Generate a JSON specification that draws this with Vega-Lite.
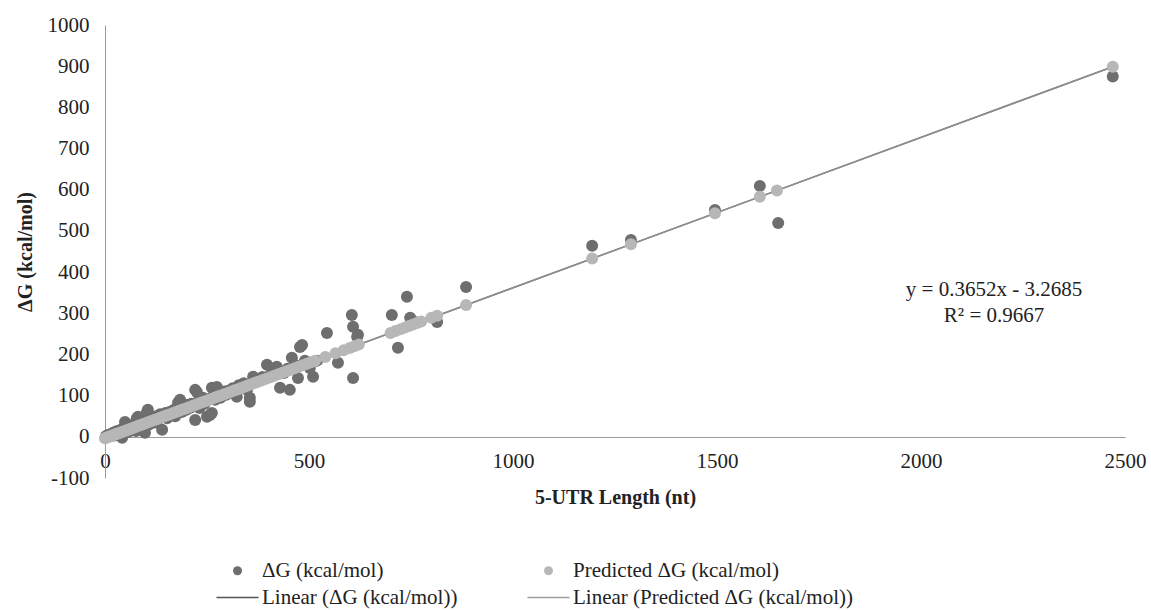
{
  "$schema": "https://vega.github.io/schema/vega-lite/v6.json",
  "width": 1020,
  "height": 453,
  "autosize": {"type": "none"},
  "padding": {"left": 105, "top": 25, "right": 26, "bottom": 132},
  "background": "white",
  "config": {
    "view": {"stroke": null},
    "font": "Liberation Serif",
    "axis": {"labelFont": "Liberation Serif", "titleFont": "Liberation Serif"},
    "legend": {"labelFont": "Liberation Serif"},
    "text": {"font": "Liberation Serif"}
  },
  "datasets": {
    "trend": [
      {"x": 0, "y": -3.27, "s": "a"}, {"x": 2470, "y": 898.8, "s": "a"},
      {"x": 0, "y": -3.27, "s": "b"}, {"x": 2470, "y": 898.8, "s": "b"}
    ],
    "eq": [
      {"x": 2179, "y": 357, "t": "y = 0.3652x - 3.2685"},
      {"x": 2179, "y": 294, "t": "R² = 0.9667"}
    ],
    "dg": [
      {"x":2,"y":1},{"x":5,"y":3},{"x":8,"y":0},{"x":10,"y":5},{"x":12,"y":2},{"x":15,"y":6},{"x":18,"y":4},{"x":20,"y":10},{"x":22,"y":3},{"x":25,"y":12},{"x":28,"y":5},{"x":30,"y":14},{"x":33,"y":8},{"x":35,"y":15},{"x":38,"y":9},{"x":40,"y":18},{"x":42,"y":-2},{"x":45,"y":20},{"x":48,"y":10},{"x":49,"y":36},{"x":52,"y":15},{"x":55,"y":22},{"x":58,"y":12},{"x":60,"y":25},{"x":63,"y":18},{"x":66,"y":28},{"x":70,"y":20},{"x":73,"y":30},{"x":76,"y":14},{"x":78,"y":45},{"x":81,"y":49},{"x":85,"y":27},{"x":88,"y":35},{"x":92,"y":25},{"x":95,"y":40},{"x":98,"y":10},{"x":100,"y":38},{"x":103,"y":60},{"x":105,"y":66},{"x":108,"y":30},{"x":112,"y":45},{"x":115,"y":40},{"x":118,"y":48},{"x":122,"y":35},{"x":126,"y":50},{"x":130,"y":42},{"x":135,"y":55},{"x":140,"y":17},{"x":143,"y":50},{"x":148,"y":58},{"x":152,"y":45},{"x":158,"y":60},{"x":163,"y":55},{"x":168,"y":65},{"x":172,"y":50},{"x":179,"y":83},{"x":184,"y":90},{"x":188,"y":60},{"x":192,"y":72},{"x":198,"y":65},{"x":203,"y":78},{"x":208,"y":70},{"x":212,"y":80},{"x":218,"y":75},{"x":221,"y":114},{"x":221,"y":41},{"x":225,"y":109},{"x":228,"y":85},{"x":232,"y":70},{"x":236,"y":88},{"x":240,"y":95},{"x":244,"y":80},{"x":250,"y":49},{"x":255,"y":92},{"x":257,"y":53},{"x":262,"y":119},{"x":262,"y":58},{"x":266,"y":100},{"x":270,"y":90},{"x":274,"y":121},{"x":278,"y":98},{"x":283,"y":95},{"x":288,"y":105},{"x":292,"y":110},{"x":297,"y":102},{"x":302,"y":112},{"x":308,"y":108},{"x":313,"y":118},{"x":318,"y":115},{"x":323,"y":97},{"x":328,"y":125},{"x":334,"y":120},{"x":340,"y":130},{"x":348,"y":114},{"x":355,"y":95},{"x":355,"y":85},{"x":363,"y":146},{"x":370,"y":135},{"x":378,"y":140},{"x":386,"y":145},{"x":397,"y":175},{"x":405,"y":150},{"x":413,"y":160},{"x":421,"y":170},{"x":429,"y":119},{"x":438,"y":155},{"x":447,"y":165},{"x":453,"y":114},{"x":458,"y":192},{"x":465,"y":175},{"x":473,"y":143},{"x":478,"y":218},{"x":483,"y":223},{"x":490,"y":185},{"x":502,"y":167},{"x":510,"y":146},{"x":520,"y":185},{"x":544,"y":252},{"x":571,"y":180},{"x":605,"y":296},{"x":608,"y":267},{"x":608,"y":143},{"x":618,"y":243},{"x":620,"y":248},{"x":703,"y":296},{"x":718,"y":216},{"x":740,"y":340},{"x":748,"y":289},{"x":760,"y":279},{"x":814,"y":279},{"x":885,"y":364},{"x":1194,"y":464},{"x":1289,"y":478},{"x":1495,"y":551},{"x":1605,"y":609},{"x":1650,"y":519},{"x":2470,"y":875}
    ],
    "pred": [
      {"x":0,"y":-3.27},{"x":3,"y":-2.17},{"x":6,"y":-1.08},{"x":10,"y":0.38},{"x":14,"y":1.84},{"x":18,"y":3.31},{"x":22,"y":4.77},{"x":26,"y":6.23},{"x":30,"y":7.69},{"x":35,"y":9.51},{"x":40,"y":11.34},{"x":45,"y":13.17},{"x":50,"y":14.99},{"x":55,"y":16.82},{"x":60,"y":18.64},{"x":65,"y":20.47},{"x":70,"y":22.3},{"x":76,"y":24.49},{"x":82,"y":26.68},{"x":88,"y":28.87},{"x":94,"y":31.06},{"x":100,"y":33.25},{"x":107,"y":35.81},{"x":114,"y":38.37},{"x":121,"y":40.92},{"x":128,"y":43.48},{"x":135,"y":46.03},{"x":142,"y":48.59},{"x":150,"y":51.51},{"x":158,"y":54.43},{"x":166,"y":57.36},{"x":174,"y":60.28},{"x":182,"y":63.2},{"x":190,"y":66.12},{"x":198,"y":69.04},{"x":206,"y":71.96},{"x":214,"y":74.88},{"x":222,"y":77.81},{"x":230,"y":80.73},{"x":238,"y":83.65},{"x":246,"y":86.57},{"x":254,"y":89.49},{"x":262,"y":92.41},{"x":270,"y":95.34},{"x":278,"y":98.26},{"x":286,"y":101.18},{"x":294,"y":104.1},{"x":302,"y":107.02},{"x":310,"y":109.94},{"x":318,"y":112.86},{"x":326,"y":115.79},{"x":334,"y":118.71},{"x":342,"y":121.63},{"x":350,"y":124.55},{"x":358,"y":127.47},{"x":366,"y":130.39},{"x":375,"y":133.68},{"x":385,"y":137.33},{"x":395,"y":140.98},{"x":405,"y":144.64},{"x":415,"y":148.29},{"x":425,"y":151.94},{"x":435,"y":155.59},{"x":445,"y":159.25},{"x":455,"y":162.9},{"x":465,"y":166.55},{"x":475,"y":170.2},{"x":485,"y":173.85},{"x":495,"y":177.51},{"x":505,"y":181.16},{"x":515,"y":184.81},{"x":540,"y":193.94},{"x":565,"y":203.07},{"x":585,"y":210.37},{"x":600,"y":215.85},{"x":612,"y":220.23},{"x":622,"y":223.88},{"x":700,"y":252.37},{"x":712,"y":256.75},{"x":725,"y":261.5},{"x":735,"y":265.15},{"x":745,"y":268.8},{"x":755,"y":272.46},{"x":765,"y":276.11},{"x":775,"y":279.76},{"x":800,"y":288.89},{"x":814,"y":294.0},{"x":885,"y":319.93},{"x":1194,"y":432.78},{"x":1289,"y":467.48},{"x":1495,"y":542.7},{"x":1605,"y":582.88},{"x":1647,"y":598.22},{"x":2470,"y":898.78}
    ]
  },
  "encoding": {
    "x": {
      "field": "x", "type": "quantitative",
      "scale": {"domain": [0, 2500], "nice": false, "zero": false},
      "axis": {
        "title": "5-UTR Length (nt)", "values": [0, 500, 1000, 1500, 2000, 2500],
        "labelExpr": "'' + datum.value",
        "offset": -41, "grid": false, "ticks": false, "tickSize": 0,
        "domainColor": "#9a9a9a", "domainWidth": 1, "labelFlush": false,
        "labelFont": "Liberation Serif", "labelFontSize": 21, "labelColor": "#222222", "labelPadding": 13,
        "titleFont": "Liberation Serif", "titleFontSize": 20, "titleFontWeight": "bold", "titleColor": "#222222", "titlePadding": 16
      }
    },
    "y": {
      "field": "y", "type": "quantitative",
      "scale": {"domain": [-100, 1000], "nice": false, "zero": false},
      "axis": {
        "title": "ΔG (kcal/mol)", "values": [-100, 0, 100, 200, 300, 400, 500, 600, 700, 800, 900, 1000],
        "labelExpr": "'' + datum.value",
        "grid": false, "ticks": false, "tickSize": 0,
        "domainColor": "#9a9a9a", "domainWidth": 1, "labelFlush": false,
        "labelFont": "Liberation Serif", "labelFontSize": 21, "labelColor": "#222222", "labelPadding": 16,
        "titleFont": "Liberation Serif", "titleFontSize": 20, "titleFontWeight": "bold", "titleColor": "#222222", "titlePadding": 12
      }
    }
  },
  "layer": [
    {
      "data": {"name": "trend"},
      "mark": {"type": "line", "stroke": "#8c8c8c", "strokeWidth": 1.5},
      "encoding": {"detail": {"field": "s"}}
    },
    {
      "data": {"name": "dg"},
      "mark": {"type": "point", "filled": true, "size": 144, "opacity": 1},
      "encoding": {
        "fill": {
          "datum": "ΔG (kcal/mol)", "type": "nominal",
          "scale": {
            "domain": ["ΔG (kcal/mol)", "Predicted ΔG (kcal/mol)", "Linear (ΔG (kcal/mol))", "Linear (Predicted ΔG (kcal/mol))"],
            "range": ["#6e6e6e", "#b7b7b7", "#555555", "#9c9c9c"]
          },
          "legend": {
            "orient": "none", "legendX": 122, "legendY": 535, "columns": 2, "direction": "horizontal",
            "title": null, "symbolSize": 81, "symbolStrokeWidth": 0, "padding": 0,
            "labelFont": "Liberation Serif", "labelFontSize": 21, "labelColor": "#222222", "labelOffset": 14,
            "columnPadding": 69, "rowPadding": 5, "labelLimit": 400
          }
        },
        "shape": {
          "datum": "ΔG (kcal/mol)", "type": "nominal",
          "scale": {
            "domain": ["ΔG (kcal/mol)", "Predicted ΔG (kcal/mol)", "Linear (ΔG (kcal/mol))", "Linear (Predicted ΔG (kcal/mol))"],
            "range": ["circle", "circle", "M-4.67,-0.17H4.67V0.17H-4.67Z", "M-4.67,-0.17H4.67V0.17H-4.67Z"]
          },
          "legend": {
            "orient": "none", "legendX": 122, "legendY": 535, "columns": 2, "direction": "horizontal",
            "title": null, "symbolSize": 81, "symbolStrokeWidth": 0, "padding": 0,
            "labelFont": "Liberation Serif", "labelFontSize": 21, "labelColor": "#222222", "labelOffset": 14,
            "columnPadding": 69, "rowPadding": 5, "labelLimit": 400
          }
        }
      }
    },
    {
      "data": {"name": "pred"},
      "mark": {"type": "point", "filled": true, "size": 144, "opacity": 1},
      "encoding": {
        "fill": {"datum": "Predicted ΔG (kcal/mol)", "type": "nominal"},
        "shape": {"datum": "Predicted ΔG (kcal/mol)", "type": "nominal"}
      }
    },
    {
      "data": {"name": "eq"},
      "mark": {"type": "text", "font": "Liberation Serif", "fontSize": 21, "align": "center", "baseline": "middle", "color": "#222222"},
      "encoding": {"text": {"field": "t"}}
    }
  ]
}
